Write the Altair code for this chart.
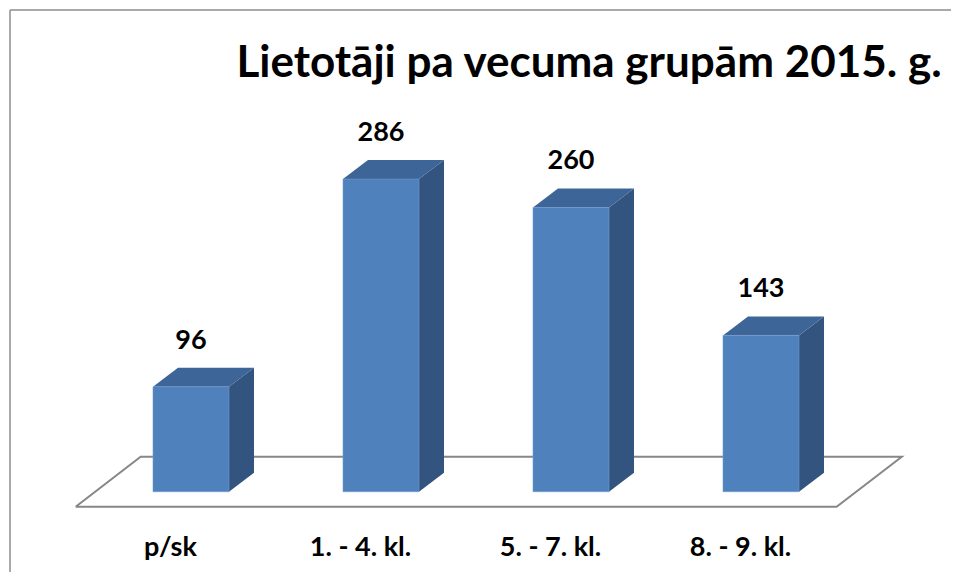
import altair as alt
import pandas as pd

# ---- data ----
categories = ["p/sk", "1. - 4. kl.", "5. - 7. kl.", "8. - 9. kl."]
values = [96, 286, 260, 143]
title_text = "Lietotāji pa vecuma grupām 2015. g."

# ---- styling constants ----
HALF = 0.2          # half bar width (x units)
DX = 0.1316         # depth offset in x (x units)
DY = 17.4           # depth offset in y (value units)
FRONT = "#4F81BD"
TOP = "#3D6597"
SIDE = "#33547F"
FONT = "Lato"

W, H = 943, 564
xs = alt.Scale(domain=[-183 / 190, 4.0], nice=False, zero=False)
ys = alt.Scale(domain=[-73.47, 442.54], nice=False, zero=False)

idx = list(range(len(categories)))

front = pd.DataFrame({
    "cat": categories,
    "x0": [i - HALF for i in idx],
    "x1": [i + HALF for i in idx],
    "v": values,
    "base": [0] * len(values),
})

side_rows, top_rows = [], []
for i, (c, v) in enumerate(zip(categories, values)):
    R, L = i + HALF, i - HALF
    side_rows.append({"cat": c, "x": R, "lo": 0, "hi": v})
    side_rows.append({"cat": c, "x": R + DX, "lo": DY, "hi": v + DY})
    top_rows.append({"cat": c, "y": v, "xl": L, "xr": R})
    top_rows.append({"cat": c, "y": v + DY, "xl": L + DX, "xr": R + DX})
side = pd.DataFrame(side_rows)
top = pd.DataFrame(top_rows)

n = len(categories)
floor = pd.DataFrame({
    "x": [-0.607, n - 0.602, n - 0.259, -0.265, -0.607],
    "y": [-13.7, -13.7, 32.0, 32.0, -13.7],
    "o": [0, 1, 2, 3, 4],
})

vlab = pd.DataFrame({"x": idx, "y": [v + 34.8 for v in values], "t": [str(v) for v in values]})
clab = pd.DataFrame({"x": [i - 0.108 for i in idx], "y": [-58.6] * n, "t": categories})

floor_layer = alt.Chart(floor).mark_line(color="#878787", strokeWidth=2).encode(
    x=alt.X("x:Q", scale=xs, axis=None),
    y=alt.Y("y:Q", scale=ys, axis=None),
    order="o:Q",
)

front_layer = alt.Chart(front).mark_bar(color=FRONT, stroke="#6f9ad0", strokeWidth=0.6).encode(
    x=alt.X("x0:Q", scale=xs, axis=None),
    x2="x1:Q",
    y=alt.Y("v:Q", scale=ys, axis=None),
    y2="base:Q",
)

side_layer = alt.Chart(side).mark_area(color=SIDE).encode(
    x=alt.X("x:Q", scale=xs, axis=None),
    y=alt.Y("hi:Q", scale=ys, axis=None),
    y2="lo:Q",
    detail="cat:N",
)

top_layer = alt.Chart(top).mark_area(color=TOP, orient="horizontal").encode(
    y=alt.Y("y:Q", scale=ys, axis=None),
    x=alt.X("xl:Q", scale=xs, axis=None),
    x2="xr:Q",
    detail="cat:N",
)

vlab_layer = alt.Chart(vlab).mark_text(
    font=FONT, fontSize=27, fontWeight="bold", color="black", baseline="alphabetic", align="center"
).encode(
    x=alt.X("x:Q", scale=xs, axis=None),
    y=alt.Y("y:Q", scale=ys, axis=None),
    text="t:N",
)

clab_layer = alt.Chart(clab).mark_text(
    font=FONT, fontSize=27, fontWeight="bold", color="black", baseline="alphabetic", align="center"
).encode(
    x=alt.X("x:Q", scale=xs, axis=None),
    y=alt.Y("y:Q", scale=ys, axis=None),
    text="t:N",
)

title_layer = alt.Chart(pd.DataFrame({"t": [title_text]})).mark_text(
    font=FONT, fontSize=44, fontWeight="bold", color="black", baseline="alphabetic", align="center"
).encode(
    x=alt.value(581), y=alt.value(68.7), text="t:N"
)

border_left = alt.Chart(pd.DataFrame({"a": [0]})).mark_rule(color="#8c8c8c", strokeWidth=1.5).encode(
    x=alt.value(2), y=alt.value(2), y2=alt.value(H)
)
border_top = alt.Chart(pd.DataFrame({"a": [0]})).mark_rule(color="#8c8c8c", strokeWidth=1.5).encode(
    x=alt.value(2), x2=alt.value(W), y=alt.value(2)
)

chart = alt.layer(
    border_left, border_top, floor_layer, side_layer, top_layer, front_layer,
    vlab_layer, clab_layer, title_layer,
).properties(
    width=W, height=H, autosize=alt.AutoSizeParams(type="none"), padding=0,
).configure_view(stroke=None)

chart.save("out.html", embed_options={"renderer": "svg", "actions": False})
